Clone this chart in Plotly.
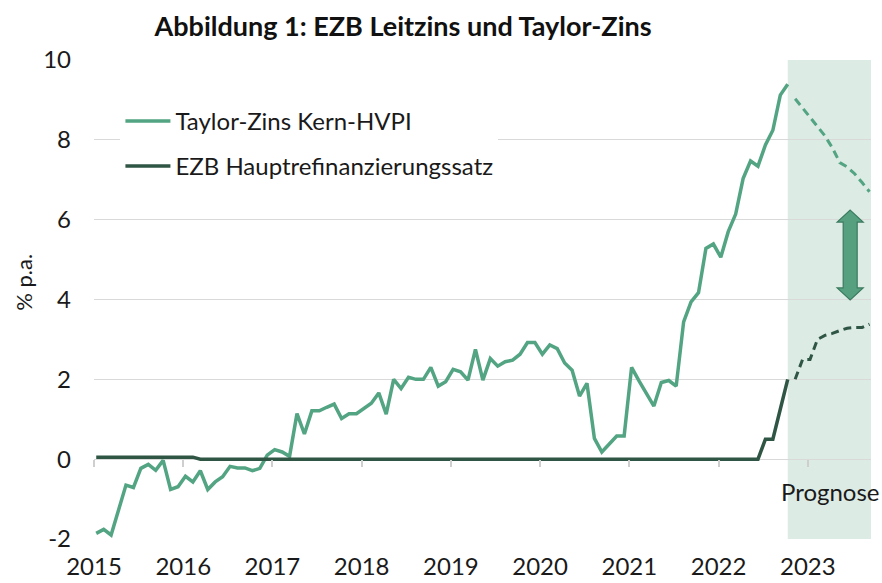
import numpy as np
import plotly.graph_objects as go

# ---------------- data (monthly, Jan 2015 = month 0) ----------------
taylor_actual = [
    -1.86, -1.76, -1.90, -1.27, -0.65, -0.71, -0.23, -0.13, -0.28, -0.03, -0.76, -0.69,  # 2015
    -0.43, -0.57, -0.29, -0.76, -0.57, -0.44, -0.18, -0.22, -0.22, -0.29, -0.23, 0.10,    # 2016
    0.24, 0.18, 0.07, 1.14, 0.63, 1.21, 1.21, 1.30, 1.38, 1.02, 1.14, 1.14,               # 2017
    1.27, 1.40, 1.66, 1.13, 2.00, 1.77, 2.05, 2.00, 2.00, 2.30, 1.83, 1.94,               # 2018
    2.25, 2.19, 1.98, 2.75, 1.98, 2.52, 2.33, 2.44, 2.48, 2.63, 2.92, 2.92,               # 2019
    2.63, 2.86, 2.77, 2.41, 2.23, 1.58, 1.90, 0.52, 0.18, 0.38, 0.58, 0.58,               # 2020
    2.30, 1.96, 1.65, 1.33, 1.92, 1.97, 1.83, 3.44, 3.94, 4.17, 5.28, 5.39,               # 2021
    5.06, 5.70, 6.14, 7.03, 7.47, 7.34, 7.87, 8.24, 9.12, 9.39,                           # 2022 Jan-Oct
]
taylor_forecast = [9.03, 8.80, 8.58, 8.33, 8.10, 7.80, 7.43, 7.32, 7.15, 6.93, 6.70]  # Nov 2022 - Sep 2023

ecb_actual = [
    0.05, 0.05, 0.05, 0.05, 0.05, 0.05, 0.05, 0.05, 0.05, 0.05, 0.05, 0.05,
    0.05, 0.05, 0.0, 0.0, 0.0, 0.0, 0.0, 0.0, 0.0, 0.0, 0.0, 0.0,
    0.0, 0.0, 0.0, 0.0, 0.0, 0.0, 0.0, 0.0, 0.0, 0.0, 0.0, 0.0,
    0.0, 0.0, 0.0, 0.0, 0.0, 0.0, 0.0, 0.0, 0.0, 0.0, 0.0, 0.0,
    0.0, 0.0, 0.0, 0.0, 0.0, 0.0, 0.0, 0.0, 0.0, 0.0, 0.0, 0.0,
    0.0, 0.0, 0.0, 0.0, 0.0, 0.0, 0.0, 0.0, 0.0, 0.0, 0.0, 0.0,
    0.0, 0.0, 0.0, 0.0, 0.0, 0.0, 0.0, 0.0, 0.0, 0.0, 0.0, 0.0,
    0.0, 0.0, 0.0, 0.0, 0.0, 0.0, 0.5, 0.5, 1.25, 2.0,
]
ecb_forecast = [2.0, 2.5, 2.5, 3.0, 3.1, 3.15, 3.22, 3.28, 3.30, 3.30, 3.38]

years = ["2015", "2016", "2017", "2018", "2019", "2020", "2021", "2022", "2023"]
y_ticks = [-2, 0, 2, 4, 6, 8, 10]
y_ticktext = ["-2", "0", "2", "4", "6", "8", "10"]

name_taylor = "Taylor-Zins Kern-HVPI"
name_ecb = "EZB Hauptrefinanzierungssatz"
title = "<b>Abbildung 1: EZB Leitzins und Taylor-Zins</b>"

# ---------------- styling ----------------
C_TAYLOR = "#52a482"
C_ECB = "#2f5545"
C_SHADE = "#ddebe5"
C_GRID = "#d9d9d9"
C_TEXT = "#1a1a1a"
FONT = "Lato"
FS = 24
OFF = 0.3  # point position within month

n_act = len(taylor_actual)
x_act = np.arange(n_act) + OFF
x_fc = np.arange(n_act, n_act + len(taylor_forecast)) + OFF
tick_pos = [12 * i for i in range(len(years))]
x_max = 104.5

fig = go.Figure()
fig.add_trace(go.Scatter(x=x_act, y=taylor_actual, mode="lines", name=name_taylor,
                         legendgroup="a", line=dict(color=C_TAYLOR, width=3.5)))
fig.add_trace(go.Scatter(x=x_act, y=ecb_actual, mode="lines", name=name_ecb,
                         legendgroup="b", line=dict(color=C_ECB, width=3.5)))
fig.add_trace(go.Scatter(x=x_fc, y=taylor_forecast, mode="lines", showlegend=False,
                         legendgroup="a", line=dict(color=C_TAYLOR, width=3, dash="8px,5px")))
fig.add_trace(go.Scatter(x=x_fc, y=ecb_forecast, mode="lines", showlegend=False,
                         legendgroup="b", line=dict(color=C_ECB, width=3, dash="8px,5px")))
# helper trace for the tick-mark axis at y = 0
fig.add_trace(go.Scatter(x=[None], y=[None], xaxis="x2", showlegend=False, hoverinfo="skip",
                         legendgroup="b"))

# Prognose shading
fig.add_shape(type="rect", xref="x", yref="y", x0=x_act[-1], x1=x_max, y0=-2, y1=10,
              fillcolor=C_SHADE, line=dict(width=0), layer="below")

# double-headed arrow
xc, hs, hh = 101.7, 0.94, 1.75
yt, ytb, yb, ybb = 6.24, 5.94, 3.99, 4.29
path = (f"M{xc},{yt} L{xc+hh},{ytb} L{xc+hs},{ytb} L{xc+hs},{ybb} L{xc+hh},{ybb} "
        f"L{xc},{yb} L{xc-hh},{ybb} L{xc-hs},{ybb} L{xc-hs},{ytb} L{xc-hh},{ytb} Z")
fig.add_shape(type="path", xref="x", yref="y", path=path,
              fillcolor="#56a080", line=dict(color="#3b7a5e", width=1.2), layer="above")

fig.add_annotation(text="Prognose", x=99.0, y=-0.82, xref="x", yref="y", showarrow=False,
                   font=dict(family=FONT, size=FS, color=C_TEXT))
fig.add_annotation(text="% p.a.", x=-0.090, y=4.42, xref="paper", yref="y", showarrow=False,
                   xanchor="center", yanchor="middle",
                   textangle=-90, font=dict(family=FONT, size=22, color=C_TEXT))

y0_frac = 2 / 12

fig.update_layout(
    width=882, height=583,
    margin=dict(l=94, r=11, t=60, b=44),
    paper_bgcolor="white", plot_bgcolor="white",
    font=dict(family=FONT, size=FS, color=C_TEXT),
    title=dict(text=title, x=0.457, xanchor="center", y=1 - 27 / 583, yanchor="middle",
               yref="container", font=dict(family=FONT, size=27, color="#111111")),
    showlegend=True,
    legend=dict(x=0.034, y=0.919, xanchor="left", yanchor="top", bgcolor="white",
                font=dict(family=FONT, size=FS, color=C_TEXT), itemwidth=45,
                tracegroupgap=11, traceorder="grouped"),
    xaxis=dict(range=[0, x_max], tickvals=tick_pos, ticktext=years, showgrid=False,
               zeroline=False, showline=False, ticks="", ticklabelstandoff=11,
               automargin=False, tickfont=dict(family=FONT, size=FS)),
    xaxis2=dict(overlaying="x", matches="x", anchor="free", position=y0_frac,
                tickvals=tick_pos, showticklabels=False, ticks="outside", ticklen=7,
                tickcolor="#cfcfcf", tickwidth=1.5, showgrid=False, zeroline=False,
                showline=False, automargin=False),
    yaxis=dict(range=[-2, 10], tickvals=y_ticks, ticktext=y_ticktext, showgrid=True,
               gridcolor=C_GRID, gridwidth=1.3, zeroline=False, showline=False, ticks="",
               ticklabelstandoff=22, automargin=False, tickfont=dict(family=FONT, size=FS)),
)

fig.write_html("out.html")
